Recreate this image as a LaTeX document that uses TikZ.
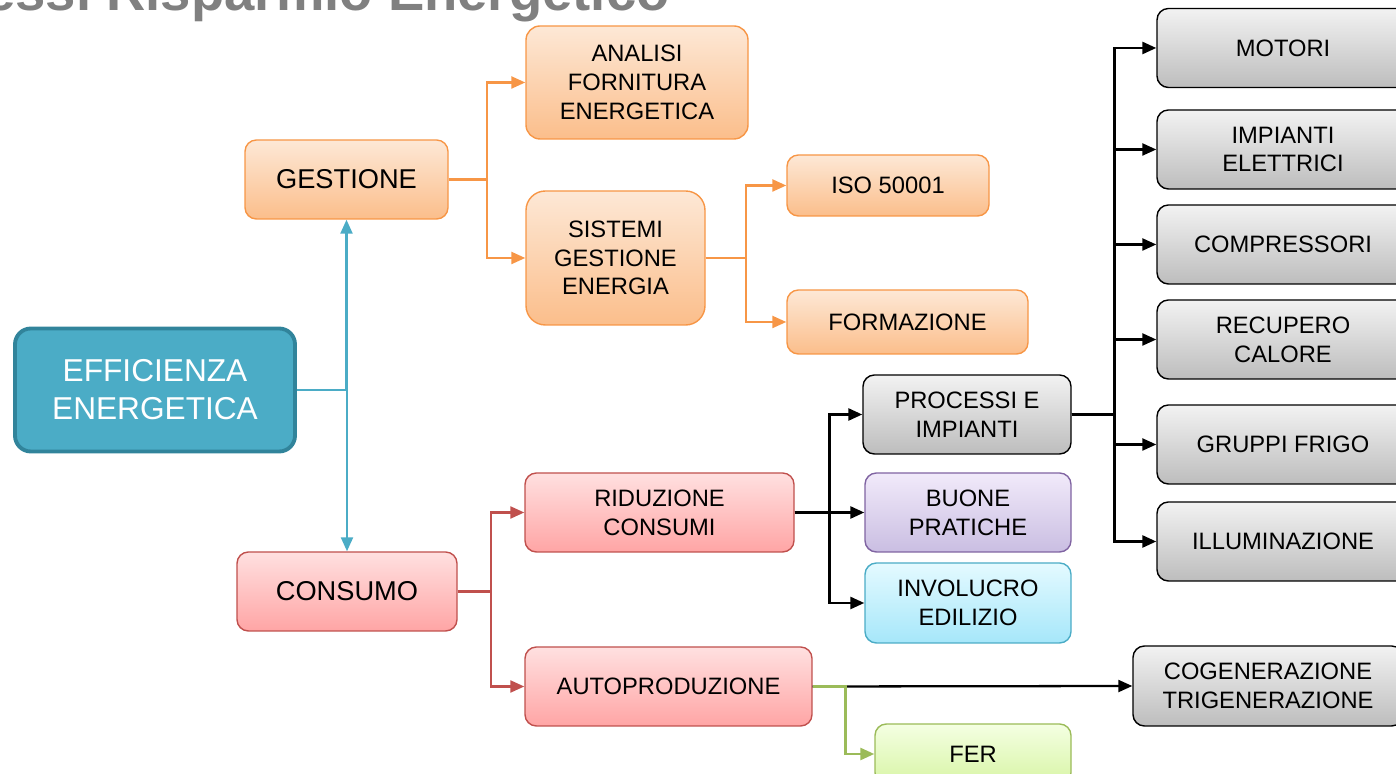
\documentclass[tikz,border=0pt]{standalone}
\usepackage{fontspec}
\setmainfont{Liberation Sans}
\usepackage{tikz}
\usetikzlibrary{positioning,arrows.meta}
\usepackage{xcolor}

\definecolor{effblue}{HTML}{4BACC6}
\definecolor{effdark}{HTML}{31849B}
\definecolor{oraline}{HTML}{F79646}
\definecolor{oratop}{HTML}{FDE8D6}
\definecolor{orabot}{HTML}{FBBE8B}
\definecolor{redline}{HTML}{C0504D}
\definecolor{redtop}{HTML}{FFE0E0}
\definecolor{redbot}{HTML}{FFA5A5}
\definecolor{greytop}{HTML}{F2F2F2}
\definecolor{greybot}{HTML}{BDBDBD}
\definecolor{purline}{HTML}{8064A2}
\definecolor{purtop}{HTML}{F1EAFA}
\definecolor{purbot}{HTML}{CABEE2}
\definecolor{cyantop}{HTML}{E4FAFF}
\definecolor{cyanbot}{HTML}{A6E7FA}
\definecolor{grnline}{HTML}{9BBB59}
\definecolor{grntop}{HTML}{F4FFE2}
\definecolor{grnbot}{HTML}{D8F5A6}
\definecolor{titlegrey}{HTML}{808080}

\begin{document}
\begin{tikzpicture}[
  box/.style={draw, rectangle, rounded corners=6.5pt, line width=0.8pt, align=center, inner sep=0pt,
    font=\fontsize{13.5}{16.4}\selectfont},
  bigbox/.style={box, font=\fontsize{15.5}{18.6}\selectfont},
  mainbox/.style={draw=effdark, fill=effblue, rectangle, rounded corners=9pt, line width=2.2pt, align=center,
    inner sep=0pt, text=white, font=\fontsize{18}{21.6}\selectfont, minimum width=5.6cm, minimum height=2.46cm},
  orabox/.style={draw=oraline, top color=oratop, bottom color=orabot},
  redbox/.style={draw=redline, top color=redtop, bottom color=redbot},
  greybox/.style={box, draw=black, top color=greytop, bottom color=greybot},
  purbox/.style={box, draw=purline, top color=purtop, bottom color=purbot},
  cyanbox/.style={box, draw=effblue, top color=cyantop, bottom color=cyanbot},
  grnbox/.style={box, draw=grnline, top color=grntop, bottom color=grnbot},
  arr/.style={-{Triangle[length=0.28cm, width=0.24cm]}, line width=1.3pt},
  bluearr/.style={arr, draw=effblue},
  oraarr/.style={arr, draw=oraline},
  redarr/.style={arr, draw=redline},
  grnarr/.style={arr, draw=grnline},
  titolo/.style={font=\fontsize{31}{36}\selectfont\bfseries, text=titlegrey, inner sep=0pt},
]
  \useasboundingbox (0,0) rectangle (27.92,15.48);

  % titolo (tagliato in alto)
  \node[titolo, anchor=base east] (title) at (13.40,15.26) {Processi Risparmio Energetico};

  % radice
  \node[mainbox] (eff) at (3.10,7.68) {EFFICIENZA\\ENERGETICA};

  % primo livello
  \node[bigbox, orabox, minimum width=4.06cm, minimum height=1.58cm] (gest) at (6.93,11.89) {GESTIONE};
  \node[bigbox, redbox, minimum width=4.40cm, minimum height=1.58cm] (cons) at (6.94,3.65) {CONSUMO};

  % gestione
  \node[box, orabox, rounded corners=8pt, minimum width=4.44cm, minimum height=2.26cm] (analisi) at (12.74,13.83) {ANALISI\\FORNITURA\\ENERGETICA};
  \node[box, orabox, rounded corners=11pt, minimum width=3.58cm, minimum height=2.68cm] (sge) at (12.31,10.32) {SISTEMI\\GESTIONE\\ENERGIA};
  \node[box, orabox, minimum width=4.04cm, minimum height=1.22cm] (iso) at (17.76,11.77) {ISO 50001};
  \node[box, orabox, minimum width=4.82cm, minimum height=1.28cm] (form) at (18.15,9.04) {FORMAZIONE};

  % consumo
  \node[box, redbox, minimum width=5.38cm, minimum height=1.58cm] (rid) at (13.19,5.23) {RIDUZIONE\\CONSUMI};
  \node[box, redbox, minimum width=5.74cm, minimum height=1.58cm] (auto) at (13.37,1.75) {AUTOPRODUZIONE};
  \node[greybox, minimum width=4.16cm, minimum height=1.58cm] (proc) at (19.34,7.19) {PROCESSI E\\IMPIANTI};
  \node[purbox, minimum width=4.12cm, minimum height=1.58cm] (buone) at (19.36,5.23) {BUONE\\PRATICHE};
  \node[cyanbox, minimum width=4.12cm, minimum height=1.60cm] (invol) at (19.36,3.42) {INVOLUCRO\\EDILIZIO};
  \node[grnbox, minimum width=3.92cm, minimum height=1.20cm] (fer) at (19.46,0.40) {FER};
  \node[greybox, minimum width=5.40cm, minimum height=1.60cm] (cogen) at (25.36,1.76) {COGENERAZIONE\\TRIGENERAZIONE};

  % processi e impianti
  \node[greybox, minimum width=5.04cm, minimum height=1.58cm] (motori) at (25.66,14.52) {MOTORI};
  \node[greybox, minimum width=5.04cm, minimum height=1.58cm] (elettr) at (25.66,12.49) {IMPIANTI\\ELETTRICI};
  \node[greybox, minimum width=5.04cm, minimum height=1.58cm] (compr) at (25.66,10.59) {COMPRESSORI};
  \node[greybox, minimum width=5.04cm, minimum height=1.58cm] (recup) at (25.66,8.69) {RECUPERO\\CALORE};
  \node[greybox, minimum width=5.04cm, minimum height=1.58cm] (frigo) at (25.66,6.59) {GRUPPI FRIGO};
  \node[greybox, minimum width=5.04cm, minimum height=1.58cm] (illum) at (25.66,4.65) {ILLUMINAZIONE};

  \draw[bluearr] (eff.east) -| (gest.south);
  \draw[bluearr] (eff.east) -| (cons.north);

  \draw[oraarr] (gest.east) -- ++(0.76,0) |- (analisi.west);
  \draw[oraarr] (gest.east) -- ++(0.76,0) |- (sge.west);
  \draw[oraarr] (sge.east) -- ++(0.80,0) |- (iso.west);
  \draw[oraarr] (sge.east) -- ++(0.80,0) |- (form.west);

  \draw[redarr] (cons.east) -- ++(0.66,0) |- (rid.west);
  \draw[redarr] (cons.east) -- ++(0.66,0) |- (auto.west);

  \draw[arr, line width=1.5pt] (rid.east) -- ++(0.70,0) |- (proc.west);
  \draw[arr, line width=1.5pt] (rid.east) -- (buone.west);
  \draw[arr, line width=1.5pt] (rid.east) -- ++(0.70,0) |- (invol.west);

  \draw[arr, line width=1.5pt] (proc.east) -- ++(0.86,0) |- (motori.west);
  \draw[arr] (proc.east) -- ++(0.86,0) |- (elettr.west);
  \draw[arr] (proc.east) -- ++(0.86,0) |- (compr.west);
  \draw[arr] (proc.east) -- ++(0.86,0) |- (recup.west);
  \draw[arr] (proc.east) -- ++(0.86,0) |- (frigo.west);
  \draw[arr, line width=1.5pt] (proc.east) -- ++(0.86,0) |- (illum.west);

  \draw[arr] (auto.east) -- (cogen.west);
  \draw[grnarr, line width=1.5pt] (auto.east) -- ++(0.66,0) |- (fer.west);
\end{tikzpicture}
\end{document}
